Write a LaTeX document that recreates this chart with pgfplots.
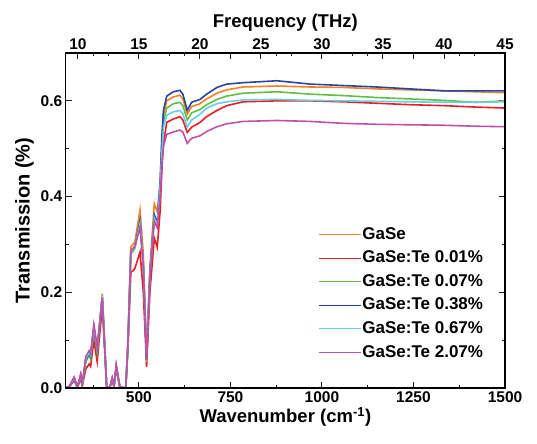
\documentclass[border=0pt]{standalone}
\usepackage{fontspec}
\setmainfont{Liberation Sans}
\usepackage{pgfplots}
\pgfplotsset{compat=1.18}

\definecolor{cOrange}{RGB}{245,128,37}
\definecolor{cRed}{RGB}{237,28,36}
\definecolor{cGreen}{RGB}{100,188,70}
\definecolor{cBlue}{RGB}{40,70,160}
\definecolor{cCyan}{RGB}{100,208,228}
\definecolor{cMag}{RGB}{190,80,170}
\definecolor{tickc}{RGB}{25,25,25}

\pgfplotstableread{
x     gase   te001  te007  te038  te067  te207
300   0.000  0.000  0.000  0.000  0.000  0.000
310   0.003  0.002  0.003  0.003  0.003  0.004
323   0.022  0.016  0.020  0.020  0.021  0.023
332   0.002  0.000  0.002  0.002  0.002  0.002
341   0.028  0.020  0.026  0.027  0.027  0.029
345   0.006  0.003  0.005  0.006  0.006  0.007
355   0.062  0.040  0.055  0.060  0.062  0.066
364   0.075  0.050  0.068  0.072  0.074  0.078
368   0.068  0.045  0.060  0.066  0.068  0.072
377   0.130  0.100  0.120  0.126  0.128  0.132
386   0.080  0.055  0.075  0.080  0.082  0.086
400   0.197  0.170  0.190  0.190  0.192  0.188
412   0.002  0.000  0.002  0.002  0.002  0.002
420   0.000  0.000  0.000  0.000  0.000  0.000
427   0.020  0.015  0.018  0.020  0.020  0.022
432   0.004  0.002  0.004  0.004  0.004  0.005
438   0.048  0.040  0.045  0.046  0.046  0.048
448   0.002  0.000  0.002  0.002  0.002  0.002
464   0.000  0.000  0.000  0.000  0.000  0.000
470   0.100  0.080  0.090  0.090  0.092  0.095
478   0.295  0.242  0.280  0.287  0.285  0.288
484   0.300  0.245  0.286  0.290  0.290  0.292
489   0.305  0.250  0.292  0.295  0.295  0.296
503   0.372  0.284  0.345  0.350  0.343  0.336
512   0.280  0.200  0.255  0.260  0.260  0.255
521   0.065  0.044  0.055  0.060  0.070  0.060
530   0.250  0.200  0.235  0.240  0.238  0.235
542   0.385  0.313  0.355  0.362  0.355  0.348
550   0.368  0.294  0.340  0.345  0.340  0.335
558   0.430  0.370  0.420  0.430  0.420  0.400
563   0.520  0.460  0.505  0.530  0.495  0.470
567   0.570  0.510  0.555  0.580  0.545  0.505
576   0.600  0.555  0.585  0.610  0.570  0.530
594   0.608  0.562  0.594  0.619  0.577  0.535
612   0.612  0.567  0.597  0.622  0.580  0.539
620   0.604  0.560  0.590  0.614  0.573  0.535
632   0.572  0.534  0.560  0.580  0.545  0.511
644   0.588  0.545  0.575  0.597  0.560  0.522
667   0.594  0.555  0.582  0.603  0.572  0.527
685   0.604  0.567  0.592  0.614  0.585  0.536
713   0.616  0.580  0.603  0.628  0.594  0.546
740   0.623  0.590  0.610  0.635  0.598  0.552
785   0.629  0.598  0.616  0.638  0.602  0.557
877   0.631  0.600  0.619  0.642  0.603  0.559
968   0.629  0.600  0.614  0.635  0.601  0.557
1059  0.628  0.598  0.611  0.632  0.600  0.553
1149  0.625  0.595  0.607  0.629  0.599  0.551
1240  0.623  0.592  0.604  0.625  0.598  0.550
1332  0.621  0.590  0.601  0.621  0.597  0.549
1420  0.619  0.587  0.597  0.621  0.597  0.547
1500  0.617  0.585  0.600  0.621  0.598  0.546
}\spectra

\begin{document}
\begin{tikzpicture}
% page = axis box plus the margins of the reference
\useasboundingbox (-65.7bp,-56bp) rectangle (471.3bp,388bp);
\begin{axis}[
    scale only axis,
    width=439.3bp, height=335bp,
    xmin=300, xmax=1500,
    ymin=0, ymax=0.7,
    xtick={500,750,1000,1250,1500},
    minor xtick={375,625,875,1125,1375},
    ytick={0,0.2,0.4,0.6},
    minor ytick={0.1,0.3,0.5},
    major tick length=0.21cm,
    minor tick length=0.12cm,
    tick style={tickc, line width=1pt},
    axis line style={line width=1.1pt},
    yticklabel={\textbf{\pgfmathprintnumber[assume math mode=true,fixed,fixed zerofill,precision=1]{\tick}}},
    xticklabel={\textbf{\pgfmathprintnumber[assume math mode=true,fixed,precision=0,1000 sep={}]{\tick}}},
    ticklabel style={font=\fontsize{15.5bp}{18bp}\selectfont\bfseries},
    scaled y ticks=false,
    xlabel={Wavenumber (cm\textsuperscript{-1})},
    ylabel={Transmission (\%)},
    xlabel style={font=\fontsize{18.5bp}{22bp}\selectfont\bfseries, yshift=2bp},
    ylabel style={font=\fontsize{20bp}{24bp}\selectfont\bfseries},
    legend style={draw=none, fill=none, at={(0.568,0.49)}, anchor=north west,
      font=\fontsize{17bp}{20bp}\selectfont\bfseries,
      nodes={inner sep=1bp, text height=12bp, text depth=3bp},
      row sep=6.6bp},
    legend cell align=left,
    legend image code/.code={\draw[#1, line width=1pt] (0bp,0bp) -- (42bp,0bp);},
]
\addplot[cOrange, line width=1.6pt] table[x=x, y=gase] {\spectra};
\addplot[cRed, line width=1.6pt] table[x=x, y=te001] {\spectra};
\addplot[cGreen, line width=1.6pt] table[x=x, y=te007] {\spectra};
\addplot[cBlue, line width=1.6pt] table[x=x, y=te038] {\spectra};
\addplot[cCyan, line width=1.6pt] table[x=x, y=te067] {\spectra};
\addplot[cMag, line width=1.6pt] table[x=x, y=te207] {\spectra};
\legend{GaSe, GaSe:Te 0.01\%, GaSe:Te 0.07\%, GaSe:Te 0.38\%, GaSe:Te 0.67\%, GaSe:Te 2.07\%}
\end{axis}
\begin{axis}[
    scale only axis,
    width=439.3bp, height=335bp,
    xmin=8.9938, xmax=45.0,
    ymin=0, ymax=0.7,
    xtick={10,15,...,45},
    minor xtick={12.5,17.5,...,42.5},
    ytick=\empty,
    xtick pos=upper,
    xticklabel pos=upper,
    major tick length=0.21cm,
    minor tick length=0.12cm,
    tick style={tickc, line width=1pt},
    axis line style={line width=1.1pt},
    xticklabel={\textbf{\pgfmathprintnumber[assume math mode=true,fixed,precision=0]{\tick}}},
    ticklabel style={font=\fontsize{15.5bp}{18bp}\selectfont\bfseries},
    xlabel={Frequency (THz)},
    xlabel style={font=\fontsize{18.5bp}{22bp}\selectfont\bfseries},
]
\end{axis}
\end{tikzpicture}
\end{document}
